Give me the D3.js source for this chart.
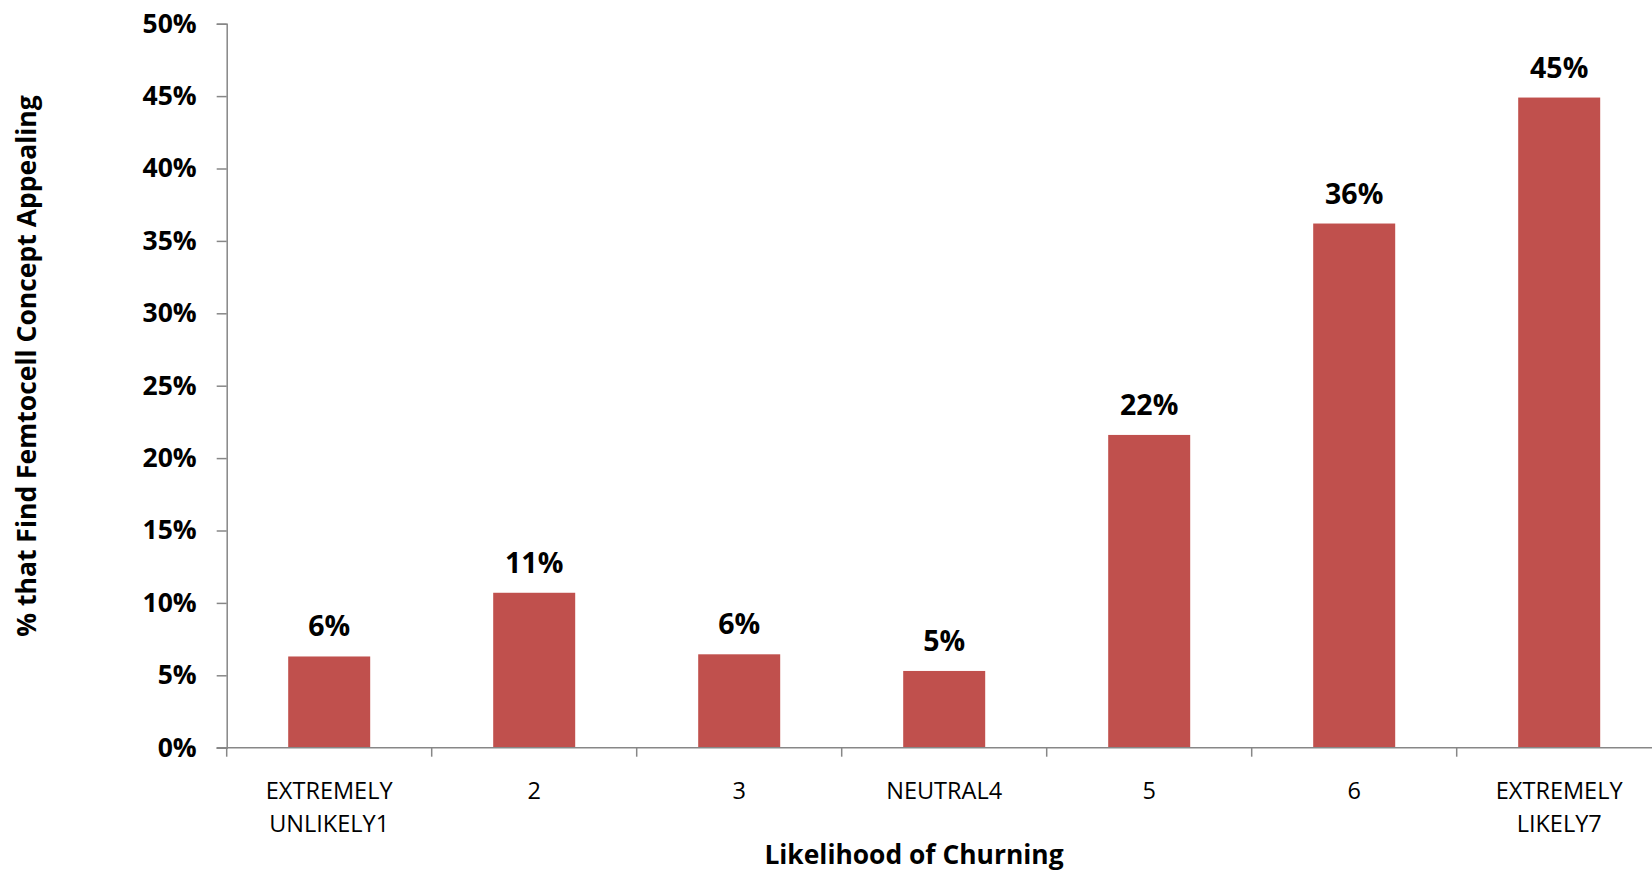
<!DOCTYPE html>
<html>
<head>
<meta charset="utf-8">
<script src="https://cdn.jsdelivr.net/npm/d3@7"></script>
<style>
html,body{margin:0;padding:0;background:#fff;}
svg{display:block;}
</style>
</head>
<body>
<svg id="chart" width="1652" height="872"></svg>
<script>
const categories = ["EXTREMELY UNLIKELY1", "2", "3", "NEUTRAL4", "5", "6", "EXTREMELY LIKELY7"];
const categoryLines = [["EXTREMELY", "UNLIKELY1"], ["2"], ["3"], ["NEUTRAL4"], ["5"], ["6"], ["EXTREMELY", "LIKELY7"]];
const values = [0.063, 0.107, 0.0645, 0.053, 0.216, 0.362, 0.449];
const valueLabels = ["6%", "11%", "6%", "5%", "22%", "36%", "45%"];
const yTicks = [0, 0.05, 0.10, 0.15, 0.20, 0.25, 0.30, 0.35, 0.40, 0.45, 0.50];
const xTitle = "Likelihood of Churning";
const yTitle = "% that Find Femtocell Concept Appealing";

const svg = d3.select("#chart");
const x0 = 226.7, yBase = 747.7, yTop = 23.7, step = 205;
const font = "'Open Sans', 'Liberation Sans', sans-serif";
const axisColor = "#878787";
const barColor = "#C0504D";

const x = d3.scaleBand().domain(categories).range([x0, x0 + step * categories.length])
  .paddingInner(0.6).paddingOuter(0.3);
const y = d3.scaleLinear().domain([0, 0.5]).range([yBase, yTop]);

// bars
svg.append("g").selectAll("rect").data(values).join("rect")
  .attr("x", (d, i) => x(categories[i]))
  .attr("y", d => y(d))
  .attr("width", x.bandwidth())
  .attr("height", d => yBase - y(d))
  .attr("fill", barColor);

// y axis
const yAxis = d3.axisLeft(y).tickValues(yTicks).tickSize(10).tickPadding(20)
  .tickFormat(d3.format(".0%"));
const gy = svg.append("g").attr("transform", `translate(${x0},0)`).call(yAxis);
gy.select(".domain").attr("stroke", axisColor).attr("stroke-width", 1.5);
gy.selectAll(".tick line").attr("stroke", axisColor).attr("stroke-width", 1.5);
gy.selectAll(".tick text").attr("font-family", font).attr("font-weight", "bold")
  .attr("font-size", 26.5).attr("fill", "#000");

// x axis line
const xEnd = x0 + step * categories.length;
svg.append("line").attr("x1", x0 - 10).attr("x2", xEnd).attr("y1", yBase).attr("y2", yBase)
  .attr("stroke", axisColor).attr("stroke-width", 1.5);
// boundary ticks
const bounds = categories.map(c => x(c) - (x.step() - x.bandwidth()) / 2);
svg.append("g").selectAll("line").data(bounds).join("line")
  .attr("x1", d => d).attr("x2", d => d).attr("y1", yBase).attr("y2", yBase + 9)
  .attr("stroke", axisColor).attr("stroke-width", 1.5);

// category labels
const cg = svg.append("g").selectAll("text").data(categoryLines).join("text")
  .attr("x", (d, i) => x(categories[i]) + x.bandwidth() / 2)
  .attr("y", 798.5)
  .attr("text-anchor", "middle")
  .attr("font-family", font).attr("font-size", 23.5).attr("fill", "#000");
cg.selectAll("tspan").data(d => d).join("tspan")
  .attr("x", function() { return d3.select(this.parentNode).attr("x"); })
  .attr("dy", (d, i) => i === 0 ? 0 : 33)
  .text(d => d);

// value labels
svg.append("g").selectAll("text").data(values).join("text")
  .attr("x", (d, i) => x(categories[i]) + x.bandwidth() / 2)
  .attr("y", d => y(d) - 20)
  .attr("text-anchor", "middle")
  .attr("font-family", font).attr("font-weight", "bold").attr("font-size", 28.5)
  .attr("fill", "#000")
  .text((d, i) => valueLabels[i]);

// axis titles
svg.append("text").attr("x", 914).attr("y", 864).attr("text-anchor", "middle")
  .attr("font-family", font).attr("font-weight", "bold").attr("font-size", 26.4)
  .attr("fill", "#000").text(xTitle);
svg.append("text").attr("transform", "translate(36,366) rotate(-90)").attr("text-anchor", "middle")
  .attr("font-family", font).attr("font-weight", "bold").attr("font-size", 26.5)
  .attr("fill", "#000").text(yTitle);
</script>
</body>
</html>
